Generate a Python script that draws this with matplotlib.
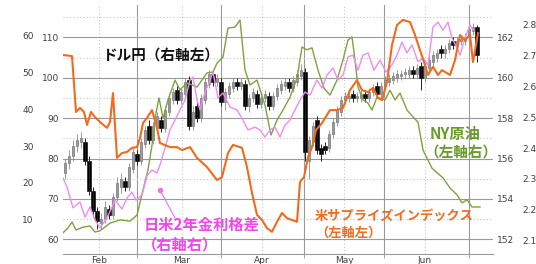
import matplotlib
matplotlib.use("Agg")
import matplotlib.pyplot as plt
import numpy as np

plt.rcParams['font.family'] = ['Noto Sans CJK JP', 'DejaVu Sans']

# --- data ---
# USD/JPY daily candles (trading-day index 0..103)
usdjpy_open = [155.3, 155.8, 156.1, 156.6, 156.8, 156.8, 155.9, 154.4, 153.4, 152.8,
               153.0, 153.5, 153.2, 154.1, 154.6, 154.9, 154.6, 155.5, 156.2, 155.9,
               156.7, 157.6, 156.9, 157.5, 157.9, 157.5, 158.3, 158.9, 159.4, 158.9,
               159.2, 159.9, 157.6, 158.6, 158.0, 158.9, 159.7, 160.2, 159.8, 159.8,
               158.8, 159.2, 159.5, 159.8, 159.6, 159.7, 158.6, 159.0, 159.2, 158.7,
               159.0, 159.1, 158.6, 159.1, 159.4, 159.6, 159.8, 159.5, 159.8, 160.1,
               160.3, 155.9, 156.8, 157.9, 156.5, 156.6, 156.5, 157.2, 157.8, 158.3,
               158.9, 159.0, 159.2, 159.0, 159.0, 159.2, 159.0, 159.3, 159.6, 159.2,
               159.6, 159.8, 159.9, 160.0, 160.1, 160.2, 160.2, 160.4, 160.2, 160.6,
               160.0, 160.5, 160.8, 161.0, 161.4, 161.2, 161.4, 161.8, 161.6, 161.8,
               161.8, 162.0, 162.3, 162.5]
usdjpy_close = [155.8, 156.1, 156.6, 156.9, 157.0, 155.9, 154.4, 153.4, 152.9, 153.0,
                153.6, 153.2, 154.1, 154.8, 155.0, 154.6, 155.6, 156.3, 155.9, 156.8,
                157.4, 156.9, 157.6, 158.1, 157.5, 158.4, 159.0, 159.3, 158.9, 159.3,
                159.8, 157.6, 158.3, 158.0, 159.0, 159.8, 160.2, 159.8, 160.0, 158.8,
                159.3, 159.6, 159.8, 159.6, 159.8, 158.6, 159.0, 159.3, 158.7, 159.0,
                159.2, 158.6, 159.1, 159.5, 159.7, 159.8, 159.5, 159.9, 160.2, 160.4,
                156.3, 156.9, 157.6, 156.4, 156.2, 156.4, 157.2, 157.8, 158.4, 158.9,
                159.1, 159.1, 159.0, 159.1, 159.2, 159.0, 159.3, 159.5, 159.2, 159.6,
                159.9, 160.0, 160.1, 160.2, 160.2, 160.3, 160.4, 160.2, 160.5, 160.0,
                160.6, 160.9, 161.1, 161.2, 161.2, 161.4, 161.7, 161.6, 161.8, 161.9,
                162.0, 162.4, 162.5, 161.1]
usdjpy_high = [156.0, 156.4, 156.9, 157.2, 157.3, 157.0, 156.1, 154.6, 153.6, 153.3,
               153.9, 153.7, 154.3, 155.1, 155.3, 155.1, 155.8, 156.5, 156.4, 157.0,
               157.6, 157.9, 157.8, 158.3, 158.1, 158.6, 159.2, 159.5, 159.6, 159.5,
               160.0, 160.1, 158.6, 158.8, 159.2, 160.0, 160.4, 160.4, 160.2, 160.0,
               159.5, 159.8, 160.0, 160.0, 160.0, 159.9, 159.2, 159.5, 159.4, 159.2,
               159.4, 159.3, 159.3, 159.7, 159.9, 160.0, 160.0, 160.1, 160.4, 160.7,
               160.5, 157.1, 157.8, 158.1, 156.7, 156.8, 157.4, 158.0, 158.6, 159.1,
               159.3, 159.3, 159.4, 159.3, 159.4, 159.4, 159.5, 159.7, 159.8, 159.8,
               160.1, 160.2, 160.3, 160.4, 160.4, 160.5, 160.6, 160.6, 160.7, 160.8,
               160.8, 161.1, 161.3, 161.4, 161.6, 161.6, 161.9, 162.0, 162.0, 162.1,
               162.2, 162.8, 162.7, 162.6]
usdjpy_low = [155.0, 155.5, 155.9, 156.3, 156.5, 155.7, 154.2, 153.1, 152.5, 152.5,
              152.8, 153.0, 153.0, 153.9, 154.3, 154.4, 154.4, 155.3, 155.7, 155.7,
              156.5, 156.7, 156.7, 157.3, 157.3, 157.3, 158.1, 158.7, 158.7, 158.7,
              159.0, 157.4, 157.4, 157.8, 157.8, 158.7, 159.5, 159.6, 159.6, 158.6,
              158.4, 159.0, 159.3, 159.4, 159.4, 158.4, 158.3, 158.8, 158.5, 158.5,
              158.8, 158.4, 158.4, 158.9, 159.2, 159.4, 159.3, 159.3, 159.6, 159.9,
              155.9, 155.0, 156.6, 156.2, 155.9, 156.2, 156.3, 157.0, 157.6, 158.1,
              158.7, 158.8, 158.8, 158.8, 158.8, 158.8, 158.8, 159.1, 159.0, 159.0,
              159.4, 159.6, 159.7, 159.8, 159.9, 160.0, 160.0, 160.0, 160.0, 159.4,
              159.8, 160.3, 160.6, 160.8, 161.0, 161.0, 161.2, 161.4, 161.4, 161.6,
              161.6, 161.8, 162.1, 160.8]

# US economic surprise index (left axis, outer)
surprise_x = [-0.5, 1.75, 2.75, 3.75, 4.75, 5.5, 6.5, 7.5, 8.75, 10.5, 11.25, 12, 13,
              14.25, 15.5, 16.75, 18, 18.75, 19.5, 20.5, 21.75, 23, 23.75, 26.25, 28,
              29.25, 31.25, 33, 35.5, 38, 39.25, 40.75, 42, 44.25, 45.5, 46.75, 48,
              49.25, 50.5, 51.75, 53, 54.25, 55.5, 56.75, 58, 58.75, 59.75, 60.75,
              61.75, 62.75, 64.25, 66.25, 68, 69.5, 71.25, 73, 74.25, 75.75, 77,
              78.25, 79.25, 80.5, 81.75, 83, 84.5, 86.25, 87.5, 88.75, 90, 90.75, 92,
              93.25, 94.25, 96.25, 97.5, 98.75, 100, 101.25, 102, 102.75, 103.25]
surprise_v = [54.6, 54.3, 39.2, 40.3, 39.2, 35.7, 39.2, 37.8, 36.5, 34.9, 36.5, 44.3, 26.8,
              28.1, 28.4, 29.5, 29.7, 32.2, 36.2, 37.6, 39.7, 34.9, 30.8, 29.7, 29.7,
              28.9, 29.7, 26.8, 24.3, 20.8, 21.6, 28.1, 30.3, 29.5, 24.3, 17.3, 11.4,
              10.0, 7.8, 6.8, 9.5, 11.9, 10.5, 10.0, 9.5, 20.3, 21.6, 27.0,
              29.7, 34.3, 36.2, 39.7, 39.7, 40.3, 45.1, 47.8, 45.1, 44.6, 45.7,
              43.0, 42.4, 47.3, 57.3, 62.7, 64.1, 63.5, 60.0, 55.9, 51.9, 49.2, 51.4,
              49.2, 50.5, 49.2, 53.2, 60.0, 58.6, 60.0, 52.7, 57.3, 60.5]

# NY crude oil (left axis, inner)
oil_x = [-0.5, 0.75, 1.75, 2.75, 4.5, 6.25, 7.5, 8.75, 11.25, 13.75, 16.25, 18, 19.5,
         20.75, 21.75, 22.5, 23.5, 24.5, 25.75, 27.5, 28.75, 30.5, 33, 35.5, 37, 38,
         39.5, 40.75, 42.5, 43.75, 45, 46.25, 48, 50, 51.5, 53, 54.5, 56.25, 58,
         59.25, 60.5, 61.75, 63.25, 64.75, 66.25, 68, 69.5, 70.75, 71.75, 72.5,
         73.25, 74.5, 75.75, 76.75, 78, 80, 81.25, 82.5, 83.75, 85.5, 87, 88.25,
         89.5, 91.75, 94.5, 96.25, 98, 99.25, 100.5, 101.75, 103.75]
oil_v = [61.6, 62.8, 64.3, 62.3, 63.0, 63.3, 61.8, 62.1, 64.0, 64.8, 64.5, 66.0, 72.2,
         77.2, 83.3, 90.0, 95.0, 90.0, 94.5, 99.4, 97.0, 98.7, 97.7, 101.2, 101.4, 103.6,
         105.1, 112.3, 112.5, 114.3, 101.9, 98.2, 99.4, 93.2, 85.8, 89.5, 92.0, 95.2, 99.9,
         107.6, 106.9, 107.4, 101.9, 97.4, 95.7, 99.4, 104.4, 109.3, 110.1, 104.4,
         97.7, 94.5, 93.7, 92.0, 95.2, 94.5, 96.9, 94.5, 96.2, 92.0, 90.3, 89.0,
         82.1, 77.6, 75.2, 72.7, 71.0, 69.0, 69.8, 68.0, 68.0]

# Japan-US 2-year yield spread (right axis, outer)
spread_x = [-0.5, 0.5, 2, 3.75, 5, 6.25, 7.5, 8.75, 10.5, 12.5, 14.25, 15.5, 16.75,
            17.75, 19.25, 20.5, 21.75, 23, 24, 25, 26.25, 27.5, 28.75, 30, 31.25, 32,
            33, 33.75, 35, 36, 37, 38.25, 39.5, 41.25, 43, 44.5, 45.75, 47.5, 48.75,
            50, 51.25, 52.5, 53.75, 55, 56.25, 57.5, 58.75, 60, 61.25, 63, 64.25,
            65.5, 67, 68.25, 69.5, 70.75, 72, 73.25, 74.5, 75.75, 77.25, 78.75,
            80.25, 81.75, 83, 84.25, 85.5, 86.75, 88.25, 89.5, 90.75, 92, 93.25,
            94.5, 95.75, 96.75, 98, 98.75, 100, 101.25, 102]
spread_v = [2.303, 2.274, 2.206, 2.225, 2.176, 2.209, 2.167, 2.141, 2.173, 2.231, 2.202,
            2.238, 2.257, 2.231, 2.248, 2.309, 2.329, 2.319, 2.355, 2.400, 2.459, 2.491,
            2.524, 2.556, 2.621, 2.631, 2.556, 2.524, 2.582, 2.611, 2.647, 2.563, 2.579,
            2.533, 2.524, 2.491, 2.459, 2.468, 2.459, 2.436, 2.459, 2.468, 2.436, 2.475,
            2.491, 2.524, 2.556, 2.582, 2.572, 2.621, 2.595, 2.637, 2.660, 2.621, 2.637,
            2.696, 2.702, 2.653, 2.702, 2.709, 2.653, 2.686, 2.647, 2.670, 2.702, 2.744,
            2.709, 2.735, 2.680, 2.692, 2.670, 2.793, 2.809, 2.783, 2.809, 2.757, 2.725,
            2.702, 2.757, 2.800, 2.783]

month_labels = ['Feb', 'Mar', 'Apr', 'May', 'Jun']
month_label_pos = [8.5, 29.25, 49.25, 69.75, 90]
month_bound_pos = [18, 39, 59.75, 79.75, 101]

# --- figure ---
W, H = 536, 264
fig = plt.figure(figsize=(W / 100, H / 100), dpi=100)
ax = fig.add_axes([63 / W, 10 / H, 430 / W, 249 / H])
ax_r = ax.twinx()    # USD/JPY
ax_g = ax.twinx()    # oil (same scale as inner left)
ax_or = ax.twinx()   # yield spread
ax_ol = ax.twinx()   # surprise index
for z, a in enumerate([ax, ax_r, ax_g, ax_or, ax_ol]):
    a.set_zorder(z)
    for s in a.spines.values():
        s.set_visible(False)
    a.set_xlim(-0.5, 107)
ax.patch.set_visible(True)
ax.patch.set_facecolor('white')
ax.spines['bottom'].set_visible(True)
ax.spines['bottom'].set_color('#999999')

tick_kw = dict(labelsize=6.5, labelcolor='#404040', labelfontfamily='DejaVu Sans')

# inner left axis + grid
ax.set_ylim(56.36, 118.0)
ax.set_yticks(np.arange(60, 111, 10))
ax.set_yticks(np.arange(65, 116, 10), minor=True)
ax.tick_params(axis='y', which='both', length=0, pad=3, **tick_kw)
ax.set_xticks(month_label_pos)
ax.set_xticklabels(month_labels)
ax.set_xticks(month_bound_pos, minor=True)
ax.tick_params(axis='x', which='major', length=0, pad=1.5, **tick_kw)
ax.tick_params(axis='x', which='minor', length=3, color='#999999')
ax.yaxis.grid(True, which='major', color='#9a9a9a', lw=0.8, ls='-')
ax.yaxis.grid(True, which='minor', color='#c4c4c4', lw=0.8, ls=(0, (1, 2)))
ax.xaxis.grid(True, which='minor', color='#9a9a9a', lw=0.8, ls='-')
ax.xaxis.grid(True, which='major', color='#c4c4c4', lw=0.8, ls=(0, (1, 2)))
ax.set_axisbelow(True)

# candles (right inner axis)
ax_r.set_ylim(151.272, 163.6)
ax_r.set_yticks(np.arange(152, 163, 2))
ax_r.tick_params(axis='y', length=0, pad=3, **tick_kw)
o = np.array(usdjpy_open)
c = np.array(usdjpy_close)
hi = np.array(usdjpy_high)
lo = np.array(usdjpy_low)
xi = np.arange(len(o))
up = c >= o
ax_r.vlines(xi[up], lo[up], hi[up], color='#8a8a8a', lw=0.6)
ax_r.vlines(xi[~up], lo[~up], hi[~up], color='#222222', lw=0.7)
ax_r.bar(xi[up], np.maximum(c[up] - o[up], 0.04), bottom=o[up], width=0.7,
         color='white', edgecolor='#7a7a7a', lw=0.6)
ax_r.bar(xi[~up], o[~up] - c[~up], bottom=c[~up], width=0.8,
         color='black', edgecolor='black', lw=0.4)

# oil (inner left scale)
ax_g.set_ylim(56.36, 118.0)
ax_g.set_yticks([])
ax_g.plot(oil_x, oil_v, color='#7fa23e', lw=1.0)

# yield spread (outer right)
ax_or.set_ylim(2.0562, 2.8646)
ax_or.set_yticks(np.arange(2.1, 2.81, 0.1))
ax_or.yaxis.set_major_formatter(matplotlib.ticker.FormatStrFormatter('%.1f'))
ax_or.tick_params(axis='y', length=0, pad=21, **tick_kw)
ax_or.plot(spread_x, spread_v, color='#f08cf0', lw=1.0)

# surprise index (outer left)
ax_ol.yaxis.tick_left()
ax_ol.set_ylim(0.81, 68.11)
ax_ol.set_yticks(np.arange(10, 61, 10))
ax_ol.tick_params(axis='y', length=0, pad=21, **tick_kw)
ax_ol.plot(surprise_x, surprise_v, color='#f26a1b', lw=1.5)

# annotations
def ftext(x, y, s, color, size=10.5):
    fig.text(x / W, 1 - y / H, s, color=color, fontsize=size, fontweight='bold',
             ha='left', va='center')

ftext(102, 55, 'ドル円（右軸左）', '#111111')
ftext(430, 134, 'NY原油', '#6a9a2a', 11)
ftext(424, 152, '（左軸右）', '#6a9a2a')
ftext(144, 225, '日米2年金利格差', '#f048e8', 11)
ftext(142, 244, '（右軸右）', '#f048e8', 11)
ftext(315, 216, '米サプライズインデックス', '#f26a1b', 9.5)
ftext(315, 233, '（左軸左）', '#f26a1b', 9.5)

# pointer from the spread label to its line
px = [175, 160]
py = [218, 190]
fig.add_artist(matplotlib.lines.Line2D([p / W for p in px], [1 - p / H for p in py],
                                       color='#f070e8', lw=0.8))
fig.add_artist(matplotlib.lines.Line2D([px[1] / W], [1 - py[1] / H], marker='o',
                                       markersize=3, color='#f070e8'))

fig.savefig('out.png', dpi=100)
